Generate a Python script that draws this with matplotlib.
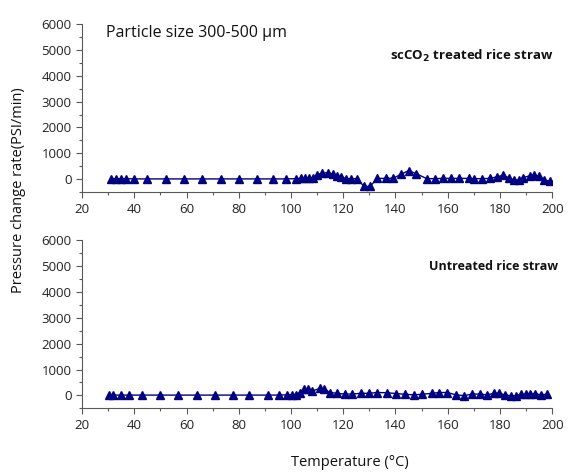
import matplotlib
matplotlib.use('Agg')
import matplotlib.pyplot as plt
from matplotlib.ticker import MultipleLocator

plt.rcParams['font.family'] = ['Open Sans', 'DejaVu Sans']

# scCO2 treated rice straw
temp_treated = [31, 33, 35, 37, 40, 45, 52, 59, 66, 73, 80, 87, 93, 98,
                102, 104, 105.5, 107, 108.5, 110, 112, 114, 116, 117.6, 119.2,
                121, 123, 125.2, 128, 130.3, 133, 136.3, 139.2, 142.1, 145, 148,
                152, 155, 158.2, 161.3, 164.2, 168, 170.2, 173, 176, 178.9, 181.2,
                183.3, 185.5, 187.2, 188.8, 191.4, 193.2, 194.8, 197, 199]
rate_treated = [20, 20, 20, 20, 10, 10, 10, 10, 10, 10, 10, 10, 10, 10,
                20, 30, 30, 30, 60, 170, 240, 250, 190, 140, 90,
                20, 20, 20, -280, -280, 30, 30, 40, 190, 330, 210,
                20, 20, 30, 30, 30, 30, 20, 20, 30, 90, 150,
                60, -40, -40, 60, 130, 150, 130, -30, -80]

# Untreated rice straw
temp_untreated = [30.2, 31.9, 35, 37.8, 43.1, 49.9, 56.9, 63.9, 70.9, 77.9, 84.1,
                  91.1, 95.4, 98.4, 100.3, 101.8, 103.4, 104.9, 106.5, 108.2, 111,
                  112.7, 114.9, 117.5, 120.5, 123.4, 126.8, 130, 133, 136.9, 140.1,
                  143.8, 147, 150, 154, 156.8, 159.9, 163.1, 166.3, 169.4, 172.2,
                  175, 177.8, 179.7, 181.8, 184.3, 186.2, 188, 190, 191.6, 193.3,
                  195.6, 198]
rate_untreated = [10, 10, 10, 10, 10, 10, 10, 10, 10, 10, 10,
                  10, 10, 20, 30, 30, 100, 260, 250, 170, 270,
                  240, 110, 80, 50, 50, 80, 80, 110, 100, 70,
                  40, 20, 40, 80, 110, 110, 20, -10, 50, 50,
                  20, 80, 80, 20, -20, -10, 40, 40, 70, 70,
                  20, 40]

color = '#000080'
axis_color = '#595959'

fig = plt.figure(figsize=(5.74, 4.72), dpi=100)
ax1 = fig.add_axes([0.143, 0.593, 0.819, 0.356])
ax2 = fig.add_axes([0.143, 0.135, 0.819, 0.356])

for ax, x, y in [(ax1, temp_treated, rate_treated), (ax2, temp_untreated, rate_untreated)]:
    ax.plot(x, y, '-^', color=color, markersize=6, linewidth=1)
    ax.set_xlim(20, 200)
    ax.set_ylim(-500, 6000)
    ax.xaxis.set_major_locator(MultipleLocator(20))
    ax.xaxis.set_minor_locator(MultipleLocator(10))
    ax.yaxis.set_major_locator(MultipleLocator(1000))
    ax.yaxis.set_minor_locator(MultipleLocator(500))
    ax.spines['top'].set_visible(False)
    ax.spines['right'].set_visible(False)
    for s in ['left', 'bottom']:
        ax.spines[s].set_color(axis_color)
        ax.spines[s].set_linewidth(0.8)
    ax.tick_params(which='major', length=4, width=0.8, color=axis_color,
                   labelsize=9.5, labelcolor='#222222')
    ax.tick_params(which='minor', length=2.5, width=0.8, color=axis_color)

ax1.text(0.051, 0.946, 'Particle size 300-500 \u00b5m', transform=ax1.transAxes,
         fontsize=11.5, color='#111111', va='center', ha='left')
ax1.text(1.002, 0.81, 'scCO$_\\mathbf{2}$ treated rice straw', transform=ax1.transAxes,
         fontsize=9.5, fontweight='bold', color='#111111', va='center', ha='right')
ax2.text(1.013, 0.845, 'Untreated rice straw', transform=ax2.transAxes,
         fontsize=9, fontweight='bold', color='#111111', va='center', ha='right')

fig.text(0.032, 0.597, 'Pressure change rate(PSI/min)', rotation=90,
         fontsize=10.5, color='#111111', va='center', ha='center')
fig.text(0.61, 0.02, 'Temperature (\u00b0C)', fontsize=10.5, color='#111111',
         va='center', ha='center')

fig.savefig('out.png', dpi=100)
